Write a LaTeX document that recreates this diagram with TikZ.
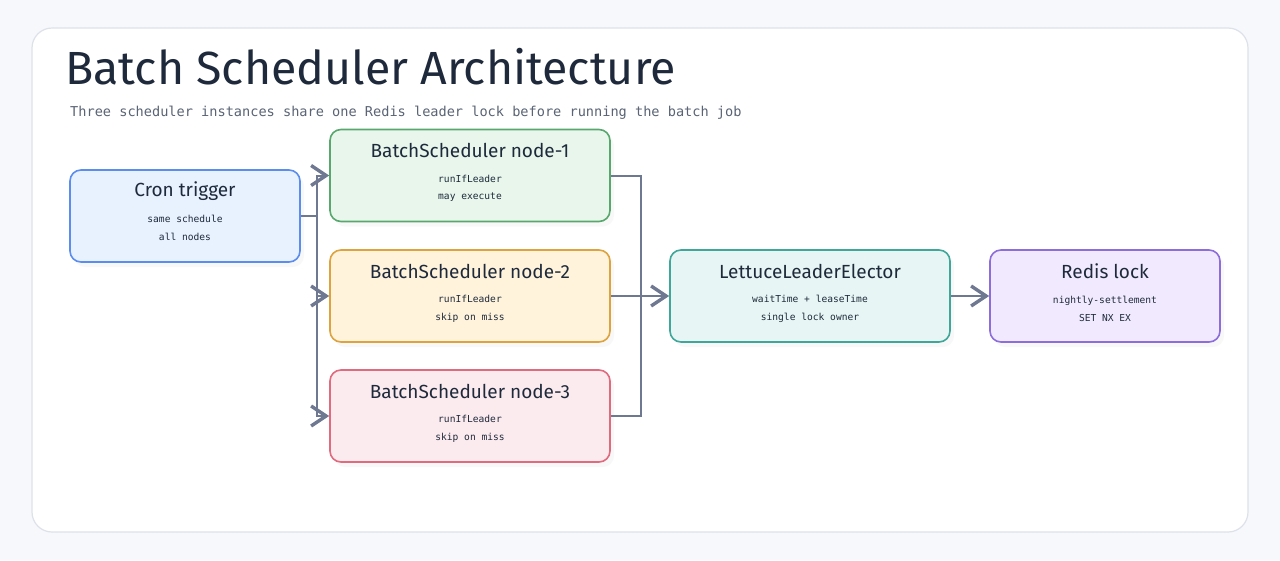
\documentclass[tikz,border=0pt]{standalone}
\usepackage{fontspec}
\setmainfont{Fira Sans}
\setmonofont{DejaVu Sans Mono}
\usetikzlibrary{arrows.meta,shadows}
\definecolor{bgc}{HTML}{F7F8FC}
\definecolor{cardb}{HTML}{DDE1EA}
\definecolor{ink}{HTML}{1E2A3B}
\definecolor{sub}{HTML}{5A6475}
\definecolor{wire}{HTML}{6E7891}
\definecolor{bluef}{HTML}{E8F1FE}\definecolor{blued}{HTML}{5B8DEF}
\definecolor{greenf}{HTML}{E8F6EC}\definecolor{greend}{HTML}{58A86E}
\definecolor{orangef}{HTML}{FFF3DC}\definecolor{oranged}{HTML}{DDA33E}
\definecolor{redf}{HTML}{FCEBEE}\definecolor{redd}{HTML}{E06A7E}
\definecolor{tealf}{HTML}{E7F6F4}\definecolor{teald}{HTML}{3FA79A}
\definecolor{purplef}{HTML}{F1EAFE}\definecolor{purpled}{HTML}{8C6DDB}
\tikzset{
  box/.style={draw, line width=1.6pt, rounded corners=11pt, minimum height=92pt, inner sep=0pt,
    drop shadow={opacity=0.05, shadow xshift=4pt, shadow yshift=-5pt}},
  ttl/.style={font=\fontsize{19}{22}\selectfont, text=ink, inner sep=0pt},
  body/.style={font=\ttfamily\fontsize{9.6}{17.5}\selectfont, text=ink, align=center, inner sep=0pt},
  wireline/.style={draw=wire, line width=2pt, rounded corners=0pt},
  conn/.style={wireline, -{Straight Barb[length=15pt,width=20pt,line width=3.4pt]}},
}
\begin{document}
\begin{tikzpicture}[x=1pt,y=-1pt]
\fill[bgc] (0,0) rectangle (1280,560);
\draw[cardb, line width=1.2pt, fill=white, rounded corners=20pt] (32,28) rectangle (1248,532);
\node[anchor=base west, inner sep=0pt, text=ink, font=\fontsize{46.5}{50}\selectfont] (title) at (65,84) {Batch Scheduler Architecture};
\node[anchor=west, inner sep=0pt, text=sub, font=\ttfamily\fontsize{13.6}{16}\selectfont] (subtitle) at (70,113) {Three scheduler instances share one Redis leader lock before running the batch job};

\node[box, fill=bluef, draw=blued, minimum width=230pt] (cron) at (185,216) {};
\node[box, fill=greenf, draw=greend, minimum width=280pt] (n1) at (470,175.5) {};
\node[box, fill=orangef, draw=oranged, minimum width=280pt] (n2) at (470,296) {};
\node[box, fill=redf, draw=redd, minimum width=280pt] (n3) at (470,416) {};
\node[box, fill=tealf, draw=teald, minimum width=280pt] (le) at (810,296) {};
\node[box, fill=purplef, draw=purpled, minimum width=230pt] (rl) at (1105,296) {};

\node[ttl] (cront) at ([yshift=-22pt]cron.north) {Cron trigger};
\node[body] (cronb) at ([yshift=-58.5pt]cron.north) {same schedule\\all nodes};
\node[ttl] (n1t) at ([yshift=-22pt]n1.north) {BatchScheduler node-1};
\node[body] (n1b) at ([yshift=-59.5pt]n1.north) {runIfLeader\\may execute};
\node[ttl] (n2t) at ([yshift=-22pt]n2.north) {BatchScheduler node-2};
\node[body] (n2b) at ([yshift=-59.5pt]n2.north) {runIfLeader\\skip on miss};
\node[ttl] (n3t) at ([yshift=-22pt]n3.north) {BatchScheduler node-3};
\node[body] (n3b) at ([yshift=-59.5pt]n3.north) {runIfLeader\\skip on miss};
\node[ttl] (let) at ([yshift=-22pt]le.north) {LettuceLeaderElector};
\node[body] (leb) at ([yshift=-59.5pt]le.north) {waitTime + leaseTime\\single lock owner};
\node[ttl] (rlt) at ([yshift=-22pt]rl.north) {Redis lock};
\node[body] (rlb) at ([yshift=-59.5pt]rl.north) {nightly-settlement\\SET NX EX};

\draw[wireline] (cron.east) -- ++(16,0) coordinate (j);
\draw[conn] (j) |- (n1.west);
\draw[conn] (j) |- (n2.west);
\draw[conn] (j) |- (n3.west);
\draw[wireline] (n1.east) -- ++(30,0) |- (n3.east);
\draw[conn] (n2.east) -- (le.west);
\draw[conn] (le.east) -- (rl.west);
\end{tikzpicture}
\end{document}
